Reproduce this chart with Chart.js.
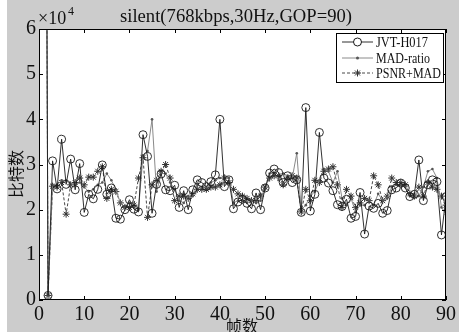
<!DOCTYPE html>
<html>
<head>
<meta charset="utf-8">
<script src="https://cdn.jsdelivr.net/npm/chart.js@4.4.1/dist/chart.umd.min.js"></script>
<style>
	html, body { margin: 0; padding: 0; background: #ccc; }
	#wrap { width: 459px; height: 332px; }
</style>
</head>
<body>
<div id="wrap"><canvas id="chart" width="459" height="332"></canvas></div>
<script>
// frame numbers
const frames = [1, 2, 3, 4, 5, 6, 7, 8, 9, 10, 11, 12, 13, 14, 15, 16, 17, 18, 19, 20,
	21, 22, 23, 24, 25, 26, 27, 28, 29, 30, 31, 32, 33, 34, 35, 36, 37, 38, 39, 40,
	41, 42, 43, 44, 45, 46, 47, 48, 49, 50, 51, 52, 53, 54, 55, 56, 57, 58, 59, 60,
	61, 62, 63, 64, 65, 66, 67, 68, 69, 70, 71, 72, 73, 74, 75, 76, 77, 78, 79, 80,
	81, 82, 83, 84, 85, 86, 87, 88, 89, 90];

// bits per frame, in units of 10^4
const jvtH017 = [25, 0.1, 3.08, 2.46, 3.56, 2.56, 3.12, 2.44, 3.02, 1.94,
	2.34, 2.24, 2.45, 2.99, 2.34, 2.48, 1.81, 1.79, 2.0, 2.22,
	2.01, 1.95, 3.66, 3.18, 1.92, 2.56, 2.79, 2.44, 2.42, 2.54,
	2.05, 2.42, 2.0, 2.44, 2.66, 2.6, 2.51, 2.62, 2.77, 4.0,
	2.51, 2.66, 2.02, 2.17, 2.23, 2.14, 2.02, 2.37, 2.0, 2.48,
	2.81, 2.9, 2.82, 2.6, 2.75, 2.6, 2.66, 1.94, 4.26, 1.97,
	2.34, 3.71, 2.7, 2.59, 2.42, 2.11, 2.07, 2.23, 1.81, 1.85,
	2.38, 1.46, 2.08, 2.03, 2.14, 1.92, 1.98, 2.44, 2.48, 2.59,
	2.48, 2.29, 2.34, 3.1, 2.2, 2.55, 2.66, 2.62, 1.44, 2.29];

const madRatio = [25, 0.1, 2.55, 2.55, 2.65, 2.65, 2.55, 2.55, 2.6, 2.5,
	2.4, 2.45, 2.55, 2.6, 2.8, 2.65, 2.45, 2.15, 2.05, 2.15,
	2.05, 2.0, 3.2, 3.3, 4.0, 2.4, 2.8, 2.8, 2.6, 2.45,
	2.2, 2.15, 2.3, 2.3, 2.55, 2.5, 2.5, 2.6, 2.65, 2.7,
	2.75, 2.7, 2.15, 2.2, 2.2, 2.15, 2.2, 2.15, 2.2, 2.45,
	2.8, 2.8, 2.65, 2.8, 2.75, 2.7, 3.25, 2.0, 2.1, 2.3,
	2.4, 2.65, 2.9, 2.85, 2.6, 2.85, 2.25, 2.1, 2.25, 1.95,
	2.1, 2.1, 2.2, 2.1, 2.35, 2.2, 2.25, 2.5, 2.55, 2.55,
	2.5, 2.3, 2.35, 2.3, 2.5, 2.85, 2.9, 2.7, 2.05, 1.9];

const psnrMad = [25, 0.1, 2.52, 2.5, 2.6, 1.9, 2.55, 2.6, 2.7, 2.55,
	2.72, 2.72, 2.85, 2.95, 2.25, 2.45, 2.4, 2.15, 2.05, 2.05,
	2.1, 2.7, 3.15, 1.83, 2.55, 2.65, 2.85, 3.0, 2.7, 2.2,
	2.3, 2.3, 2.25, 2.35, 2.45, 2.45, 2.45, 2.5, 2.5, 2.55,
	2.7, 2.6, 2.45, 2.35, 2.3, 2.25, 2.2, 2.2, 2.3, 2.5,
	2.7, 2.75, 2.75, 2.55, 2.7, 2.75, 2.7, 1.95, 2.45, 2.2,
	2.65, 2.6, 2.85, 2.9, 2.95, 2.55, 2.05, 2.45, 2.3, 2.05,
	2.15, 2.25, 2.2, 2.75, 2.55, 2.2, 2.3, 2.7, 2.6, 2.6,
	2.55, 2.35, 2.3, 2.5, 2.3, 2.6, 2.5, 2.45, 2.3, 2.1];

const xTicks = [0, 10, 20, 30, 40, 50, 60, 70, 80, 90];
const yTicks = [0, 1, 2, 3, 4, 5, 6];

const titleText = "silent(768kbps,30Hz,GOP=90)";
const xTitle = "帧数";
const yTitle = "比特数";
const seriesNames = ["JVT-H017", "MAD-ratio", "PSNR+MAD"];

const serif = "'Liberation Serif', 'DejaVu Serif', serif";

function points(values) {
	return frames.map((f, i) => ({x: f, y: values[i]}));
}

function drawMarker(ctx, kind, x, y, color) {
	ctx.save();
	ctx.strokeStyle = color;
	ctx.fillStyle = color;
	ctx.lineWidth = 1;
	ctx.setLineDash([]);
	ctx.beginPath();
	if (kind === "circle") {
		ctx.fillStyle = "#fff";
		ctx.arc(x, y, 4, 0, Math.PI * 2);
		ctx.fill();
		ctx.stroke();
	} else if (kind === "dot") {
		ctx.arc(x, y, 1.5, 0, Math.PI * 2);
		ctx.fill();
	} else {
		for (let a = 0; a < 4; a++) {
			const ang = a * Math.PI / 4;
			ctx.moveTo(x - 3.5 * Math.cos(ang), y - 3.5 * Math.sin(ang));
			ctx.lineTo(x + 3.5 * Math.cos(ang), y + 3.5 * Math.sin(ang));
		}
		ctx.stroke();
	}
	ctx.restore();
}

const framePlugin = {
	id: "matlabFrame",
	beforeDraw(chart) {
		const {ctx, chartArea} = chart;
		ctx.save();
		ctx.fillStyle = "#cccccc";
		ctx.fillRect(0, 0, chart.width, chart.height);
		ctx.fillStyle = "#ffffff";
		ctx.fillRect(0, 0, 7, chart.height);
		ctx.fillRect(chartArea.left, chartArea.top, chartArea.right - chartArea.left, chartArea.bottom - chartArea.top);
		ctx.restore();
	},
	afterDraw(chart) {
		const {ctx, chartArea} = chart;
		const xs = chart.scales.x, ys = chart.scales.y;
		const {left, right, top, bottom} = chartArea;
		ctx.save();
		ctx.strokeStyle = "#000";
		ctx.lineWidth = 1;
		ctx.setLineDash([]);
		ctx.strokeRect(left + 0.5, top + 0.5, right - left - 1, bottom - top - 1);

		// inward ticks on all four sides
		ctx.beginPath();
		yTicks.forEach(v => {
			const py = Math.round(ys.getPixelForValue(v)) + 0.5;
			ctx.moveTo(left, py); ctx.lineTo(left + 4, py);
			ctx.moveTo(right, py); ctx.lineTo(right - 4, py);
		});
		xTicks.forEach(v => {
			const px = Math.round(xs.getPixelForValue(v)) + 0.5;
			ctx.moveTo(px, bottom); ctx.lineTo(px, bottom - 4);
			ctx.moveTo(px, top); ctx.lineTo(px, top + 4);
		});
		ctx.stroke();

		// title and exponent
		ctx.fillStyle = "#111";
		ctx.font = "19px " + serif;
		ctx.textAlign = "center";
		ctx.textBaseline = "alphabetic";
		ctx.fillText(titleText, 236, 22, 232);
		ctx.textAlign = "left";
		ctx.font = "18px " + serif;
		ctx.fillText("×10", 38, 24);
		ctx.font = "12px " + serif;
		ctx.fillText("4", 68, 15);

		// axis titles
		ctx.font = "16px 'Noto Sans CJK SC'";
		ctx.textAlign = "center";
		ctx.textBaseline = "top";
		ctx.fillText(xTitle, 242, 318);
		ctx.save();
		ctx.translate(16, 174);
		ctx.rotate(-Math.PI / 2);
		ctx.textBaseline = "middle";
		ctx.fillText(yTitle, 0, 0);
		ctx.restore();

		// legend
		const bx = 336, by = 33, bw = 107, bh = 49;
		ctx.fillStyle = "#fff";
		ctx.fillRect(bx, by, bw, bh);
		ctx.strokeStyle = "#000";
		ctx.strokeRect(bx + 0.5, by + 0.5, bw, bh);
		const rows = [42, 58, 73];
		const kinds = ["circle", "dot", "star"];
		const textWidths = [52, 54, 65];
		chart.data.datasets.forEach((ds, i) => {
			const ry = rows[i];
			ctx.save();
			ctx.strokeStyle = ds.borderColor;
			ctx.lineWidth = ds.borderWidth;
			ctx.setLineDash(ds.borderDash || []);
			ctx.beginPath();
			ctx.moveTo(342, ry); ctx.lineTo(373, ry);
			ctx.stroke();
			ctx.restore();
			drawMarker(ctx, kinds[i], 357.5, ry, ds.pointBorderColor);
			ctx.fillStyle = "#111";
			ctx.font = "14px " + serif;
			ctx.textAlign = "left";
			ctx.textBaseline = "middle";
			ctx.fillText(seriesNames[i], 376, ry + 1, textWidths[i]);
		});
		ctx.restore();
	}
};

const ctx = document.getElementById("chart").getContext("2d");

new Chart(ctx, {
	type: "line",
	data: {
		datasets: [
			{
				label: seriesNames[0],
				data: points(jvtH017),
				borderColor: "#1a1a1a",
				borderWidth: 0.9,
				pointStyle: "circle",
				pointRadius: 4,
				pointBorderWidth: 0.9,
				pointBorderColor: "#1a1a1a",
				pointBackgroundColor: "rgba(255,255,255,0)",
				tension: 0,
			},
			{
				label: seriesNames[1],
				data: points(madRatio),
				borderColor: "#8a8a8a",
				borderWidth: 1,
				pointStyle: "circle",
				pointRadius: 1.3,
				pointBorderWidth: 0,
				pointBorderColor: "#555",
				pointBackgroundColor: "#555",
				tension: 0,
			},
			{
				label: seriesNames[2],
				data: points(psnrMad),
				borderColor: "#333",
				borderWidth: 0.9,
				borderDash: [3, 2],
				pointStyle: "star",
				pointRadius: 3.5,
				pointBorderWidth: 1,
				pointBorderColor: "#333",
				pointBackgroundColor: "#333",
				tension: 0,
			}
		]
	},
	options: {
		responsive: false,
		animation: false,
		events: [],
		layout: {
			padding: {top: 29, right: 12, left: 0, bottom: 0}
		},
		plugins: {
			legend: {display: false},
			tooltip: {enabled: false},
			title: {display: false}
		},
		scales: {
			x: {
				type: "linear",
				min: 0,
				max: 90,
				afterBuildTicks: scale => { scale.ticks = xTicks.map(v => ({value: v})); },
				afterFit: scale => { scale.height = 32; },
				grid: {display: false, drawTicks: false},
				border: {display: false},
				ticks: {
					color: "#111",
					padding: 3,
					maxRotation: 0,
					autoSkip: false,
					font: {family: serif, size: 20}
				}
			},
			y: {
				type: "linear",
				min: 0,
				max: 6,
				afterBuildTicks: scale => { scale.ticks = yTicks.map(v => ({value: v})); },
				afterFit: scale => { scale.width = 39; },
				grid: {display: false, drawTicks: false},
				border: {display: false},
				ticks: {
					color: "#111",
					padding: 3,
					font: {family: serif, size: 20}
				}
			}
		}
	},
	plugins: [framePlugin]
});
</script>
</body>
</html>
